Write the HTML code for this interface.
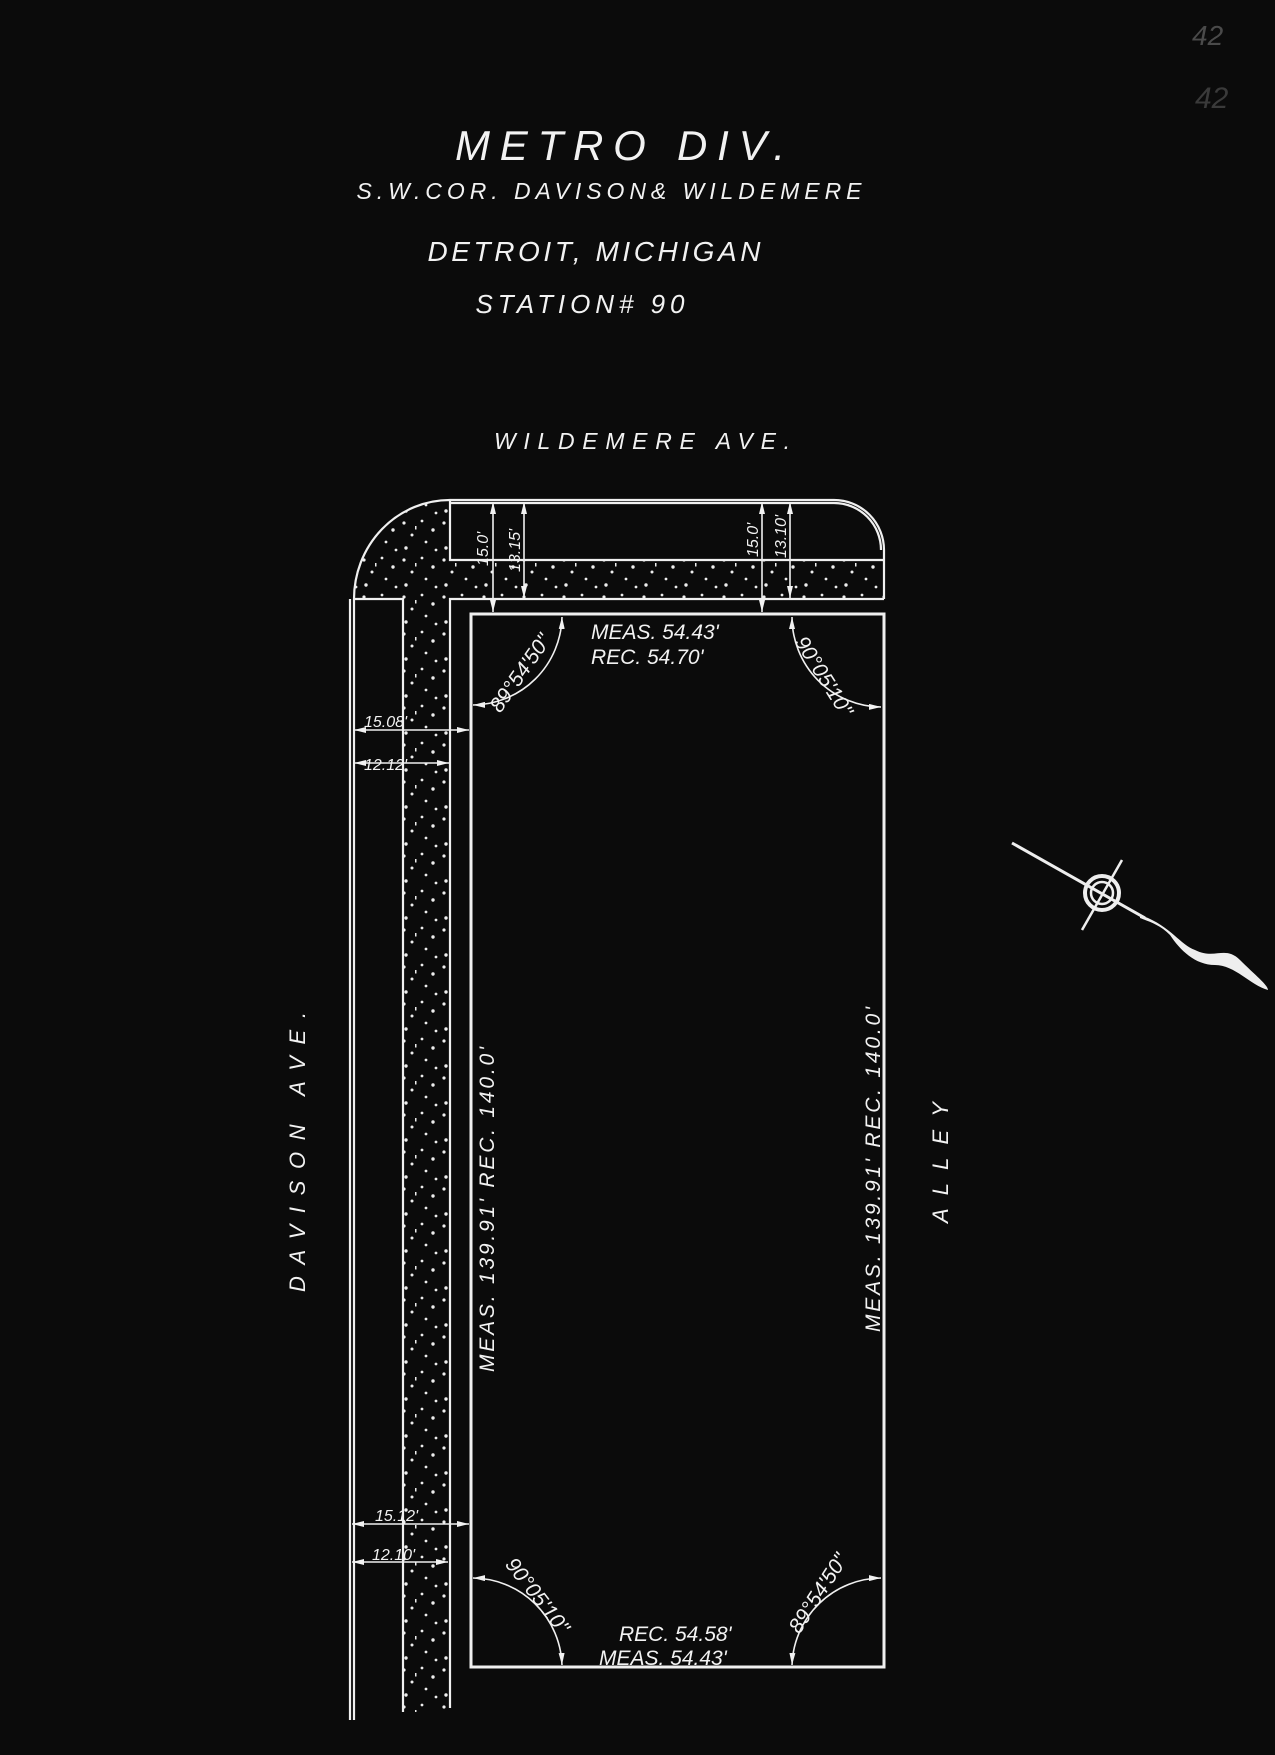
<!DOCTYPE html>
<html><head><meta charset="utf-8"><style>
html,body{margin:0;padding:0;background:#0a0a0a;}
svg{display:block}
text{font-family:"Liberation Sans",sans-serif;fill:#f2f2f2;font-style:italic}
</style></head><body>
<svg width="1275" height="1755" viewBox="0 0 1275 1755" xmlns="http://www.w3.org/2000/svg">
<defs>
<pattern id="dots" width="40" height="37" patternUnits="userSpaceOnUse">
<g fill="#eee">
<circle cx="4" cy="5" r="1.6"/><circle cx="22" cy="3" r="1.4"/><circle cx="33" cy="12" r="1.7"/>
<circle cx="12" cy="17" r="1.5"/><circle cx="26" cy="24" r="1.4"/><circle cx="6" cy="30" r="1.7"/>
<circle cx="36" cy="32" r="1.4"/><rect x="15" y="8" width="1.5" height="3.5"/>
</g></pattern>
<marker id="ar" viewBox="0 0 12 6" refX="12" refY="3" markerWidth="12" markerHeight="6" orient="auto-start-reverse" markerUnits="userSpaceOnUse"><path d="M0,0 L12,3 L0,6 z" fill="#f2f2f2"/></marker>
</defs>
<rect width="1275" height="1755" fill="#0b0b0b"/>
<!-- hatched sidewalks -->
<path d="M354,599 A96,99 0 0 1 450,500 L450,560 L884,560 L884,599 L450,599 L450,1712 L403,1712 L403,599 Z" fill="url(#dots)"/>
<g stroke="#f0f0f0" stroke-width="2.2" fill="none">
<path d="M354,1720 L354,599 A96,99 0 0 1 450,500 L834,500 A50,50 0 0 1 884,550 L884,599"/>
<path d="M350,1720 L350,599"/>
<path d="M450,503 L834,503 A47,47 0 0 1 881,550"/>
<path d="M450,500 L450,560 L884,560"/>
<path d="M354,599 L403,599 L403,1712"/>
<path d="M450,1708 L450,599 L884,599"/>
<rect x="471" y="614" width="413" height="1053" stroke-width="3"/>
</g>
<g stroke="#f0f0f0" stroke-width="1.6" fill="none">
<line x1="493" y1="502" x2="493" y2="612" marker-start="url(#ar)" marker-end="url(#ar)"/>
<line x1="524" y1="502" x2="524" y2="598" marker-start="url(#ar)" marker-end="url(#ar)"/>
<line x1="762" y1="502" x2="762" y2="612" marker-start="url(#ar)" marker-end="url(#ar)"/>
<line x1="790" y1="502" x2="790" y2="598" marker-start="url(#ar)" marker-end="url(#ar)"/>
<line x1="354" y1="730" x2="469" y2="730" marker-start="url(#ar)" marker-end="url(#ar)"/>
<line x1="354" y1="763" x2="449" y2="763" marker-start="url(#ar)" marker-end="url(#ar)"/>
<line x1="352" y1="1524" x2="469" y2="1524" marker-start="url(#ar)" marker-end="url(#ar)"/>
<line x1="352" y1="1562" x2="448" y2="1562" marker-start="url(#ar)" marker-end="url(#ar)"/>
<path d="M562,617 A90,90 0 0 1 473,705" marker-start="url(#ar)" marker-end="url(#ar)"/>
<path d="M792,617 A90,90 0 0 0 881,707" marker-start="url(#ar)" marker-end="url(#ar)"/>
<path d="M473,1578 A90,90 0 0 1 562,1665" marker-start="url(#ar)" marker-end="url(#ar)"/>
<path d="M792,1665 A90,90 0 0 1 881,1578" marker-start="url(#ar)" marker-end="url(#ar)"/>
</g>
<!-- title -->
<text x="620" y="160" font-size="42" text-anchor="middle" textLength="330">METRO DIV.</text>
<text x="609" y="199" font-size="23" text-anchor="middle" textLength="505" font-style="normal">S.W.COR. DAVISON&amp; WILDEMERE</text>
<text x="594" y="261" font-size="28" text-anchor="middle" textLength="333" font-style="normal">DETROIT, MICHIGAN</text>
<text x="580" y="313" font-size="26" text-anchor="middle" textLength="209" font-style="normal">STATION# 90</text>
<text x="642" y="449" font-size="23" text-anchor="middle" textLength="296" font-style="normal">WILDEMERE AVE.</text>
<text x="1192" y="45" font-size="28" style="fill:#4a4a4a">42</text>
<text x="1195" y="108" font-size="30" style="fill:#3a3a3a">42</text>
<g font-size="16">
<text transform="translate(488,566) rotate(-90)">15.0'</text>
<text transform="translate(520,572) rotate(-90)">13.15'</text>
<text transform="translate(758,557) rotate(-90)">15.0'</text>
<text transform="translate(786,558) rotate(-90)">13.10'</text>
<text x="364" y="727">15.08'</text>
<text x="364" y="770">12.12'</text>
<text x="375" y="1521">15.12'</text>
<text x="372" y="1560">12.10'</text>
</g>
<g font-size="21">
<text x="591" y="639">MEAS. 54.43'</text>
<text x="591" y="664">REC.  54.70'</text>
<text x="619" y="1641">REC. 54.58'</text>
<text x="599" y="1665">MEAS. 54.43'</text>
<text transform="translate(526,677) rotate(-55)" text-anchor="middle">89°54'50"</text>
<text transform="translate(818,680) rotate(58)" text-anchor="middle">90°05'10"</text>
<text transform="translate(532,1600) rotate(52)" text-anchor="middle">90°05'10"</text>
<text transform="translate(824,1597) rotate(-57)" text-anchor="middle">89°54'50"</text>
<text transform="translate(494,1372) rotate(-90)" textLength="325">MEAS. 139.91' REC. 140.0'</text>
<text transform="translate(880,1332) rotate(-90)" textLength="325">MEAS. 139.91' REC. 140.0'</text>
</g>
<text transform="translate(305,1292) rotate(-90)" font-size="22" font-style="normal" textLength="280">DAVISON    AVE.</text>
<text transform="translate(948,1223) rotate(-90)" font-size="22" font-style="normal" textLength="121">ALLEY</text>
<g stroke="#eee" fill="none">
<line x1="1012" y1="843" x2="1145" y2="918" stroke-width="3"/>
<line x1="1122" y1="860" x2="1082" y2="930" stroke-width="2.5"/>
<circle cx="1102" cy="893" r="17" stroke-width="4"/>
<circle cx="1102" cy="893" r="11" stroke-width="2.5"/>
</g>
<path d="M1140,915 C1170,925 1180,945 1195,950 C1215,960 1225,945 1240,960 C1255,975 1268,985 1268,990 C1250,985 1235,965 1215,965 C1195,965 1180,950 1170,935 C1160,925 1150,922 1140,918 Z" fill="#eee"/>
</svg>
</body></html>
